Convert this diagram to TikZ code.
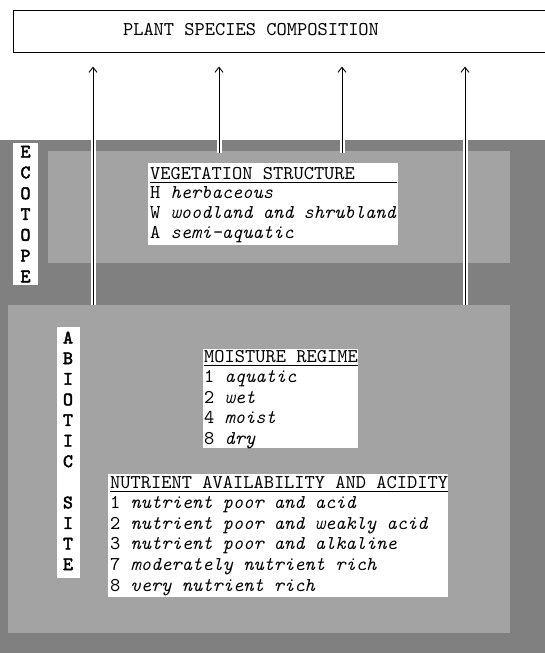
\documentclass[tikz,border=0pt]{standalone}
\usepackage{fontspec}
\newfontfamily\tw{lmmono10-regular.otf}[ItalicFont=lmmono10-italic.otf]
\newfontfamily\twb{lmmono10-regular.otf}[FakeBold=2.5]
\usetikzlibrary{arrows.meta}
\definecolor{darkg}{gray}{0.50}
\definecolor{lightg}{gray}{0.64}
\begin{document}
\begin{tikzpicture}[x=1pt,y=-1pt,
  txt/.style={font=\fontsize{19.5}{20.6}\selectfont\tw, inner sep=0pt, anchor=base west},
  letter/.style={font=\fontsize{19}{20.6}\selectfont\twb, inner sep=0pt, anchor=base},
  halo/.style={white, line width=5pt},
  conn/.style={black, line width=0.9pt, shorten >=14pt, -{Straight Barb[length=5pt,width=8pt]}},
  whitebox/.style={fill=white},
  rule/.style={black, line width=0.8pt},
]
\useasboundingbox (0,0) rectangle (545,653);
\clip (0,0) rectangle (545,653);
\fill[white] (0,0) rectangle (545,653);

% grey fields
\fill[darkg] (0,140) rectangle (545,653);
\fill[lightg] (48,151) rectangle (510,263);
\fill[lightg] (8,305) rectangle (510,633);

% top box
\node[draw, line width=0.6pt, anchor=north west, minimum width=560pt, minimum height=42pt, inner sep=0pt] (top) at (13,10) {};
\node[txt, anchor=base] (toptxt) at (251,35) {PLANT SPECIES COMPOSITION};

% connector end points
\coordinate (c1) at (93,305);
\coordinate (c2) at (219,153);
\coordinate (c3) at (342,153);
\coordinate (c4) at (465,305);
\foreach \c in {c1,c2,c3,c4}{
  \draw[halo] (\c) -- (\c |- top.south);
}
\foreach \c in {c1,c2,c3,c4}{
  \draw[conn] (\c) -- (\c |- top.south);
}

% ECOTOPE strip
\fill[white] (13,143) rectangle (38,285);
\foreach \l [count=\i from 0] in {E,C,O,T,O,P,E}{
  \node[letter] (eco\i) at (25.5,{157.5+20.8*\i}) {\l};
}

% ABIOTIC SITE strip
\fill[white] (57,327) rectangle (80,578);
\foreach \l [count=\i from 0] in {A,B,I,O,T,I,C}{
  \node[letter] (ab\i) at (68,{343.5+20.6*\i}) {\l};
}
\foreach \l [count=\i from 8] in {S,I,T,E}{
  \node[letter] (si\i) at (68,{343.5+20.6*\i}) {\l};
}

% vegetation structure
\fill[whitebox] (148,163) rectangle (398,245);
\node[txt] (veg0) at (150,179) {VEGETATION STRUCTURE};
\draw[rule] (150,182) -- (397,182);
\node[txt] (veg1) at (150,198.8) {H \textit{herbaceous}};
\node[txt] (veg2) at (150,218.6) {W \textit{woodland and shrubland}};
\node[txt] (veg3) at (150,238.4) {A \textit{semi-aquatic}};

% moisture regime
\fill[whitebox] (203,349) rectangle (358,448);
\node[txt] (moi0) at (204,362) {MOISTURE REGIME};
\draw[rule] (204,365) -- (358,365);
\node[txt] (moi1) at (204,382.6) {1 \textit{aquatic}};
\node[txt] (moi2) at (204,403.2) {2 \textit{wet}};
\node[txt] (moi3) at (204,423.8) {4 \textit{moist}};
\node[txt] (moi4) at (204,444.4) {8 \textit{dry}};

% nutrient availability
\fill[whitebox] (108,474) rectangle (448,597);
\node[txt] (nut0) at (110,488) {NUTRIENT AVAILABILITY AND ACIDITY};
\draw[rule] (110,491) -- (448,491);
\node[txt] (nut1) at (110,508.6) {1 \textit{nutrient poor and acid}};
\node[txt] (nut2) at (110,529.2) {2 \textit{nutrient poor and weakly acid}};
\node[txt] (nut3) at (110,549.8) {3 \textit{nutrient poor and alkaline}};
\node[txt] (nut4) at (110,570.4) {7 \textit{moderately nutrient rich}};
\node[txt] (nut5) at (110,591.0) {8 \textit{very nutrient rich}};
\end{tikzpicture}
\end{document}
